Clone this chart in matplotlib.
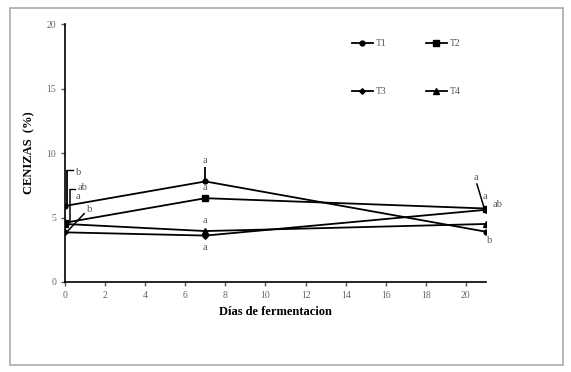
import numpy as np
import matplotlib
matplotlib.use("Agg")
import matplotlib.pyplot as plt
from matplotlib.patches import Rectangle

plt.rcParams['font.family'] = ['Liberation Serif', 'DejaVu Serif']

# data
dias = [0, 7, 21]
t1 = [5.9, 7.8, 3.9]
t2 = [4.6, 6.5, 5.7]
t3 = [3.85, 3.6, 5.6]
t4 = [4.5, 3.95, 4.5]
t1_err = [2.8, 1.1, 0.0]
t2_err = [2.6, 0.0, 0.0]

# significance letters (x, y, text)
letras = [(0.65, 8.5, 'b'), (0.85, 7.3, 'ab'), (0.65, 6.6, 'a'), (1.2, 5.6, 'b'),
          (7, 9.4, 'a'), (7, 7.3, 'a'), (7, 4.8, 'a'), (7, 2.7, 'a'),
          (20.5, 8.1, 'a'), (20.95, 6.6, 'a'), (21.6, 6.0, 'ab'), (21.2, 3.2, 'b')]

fig = plt.figure(figsize=(5.71, 3.72), dpi=100)
ax = fig.add_axes([0.114, 0.242, 0.737, 0.693])

ax.plot(dias, t1, '-o', color='black', lw=1.3, ms=3.5, label='T1')
ax.plot(dias, t2, '-s', color='black', lw=1.3, ms=5, label='T2')
ax.plot(dias, t3, '-D', color='black', lw=1.3, ms=2.8, label='T3')
ax.plot(dias, t4, '-^', color='black', lw=1.3, ms=4, label='T4')

ax.errorbar([0.08, 7], [t1[0], t1[1]], yerr=[[0, 0], [t1_err[0], t1_err[1]]],
            fmt='none', ecolor='black', lw=1.3, capsize=0)
ax.errorbar([0.25], [t2[0]], yerr=[[0], [t2_err[0]]], fmt='none', ecolor='black', lw=1.1)
ax.plot([0.08, 0.4], [8.7, 8.7], color='black', lw=1)
ax.plot([0.25, 0.5], [7.2, 7.2], color='black', lw=1)

# leader lines
for (x0, y0, x1, y1) in [(0.1, 3.9, 0.95, 5.3), (20.9, 5.8, 20.55, 7.6), (21.05, 4.6, 21.5, 5.6)]:
    ax.plot([x0, x1], [y0, y1], color='black', lw=1.1)

for x, y, s in letras:
    ax.text(x, y, s, ha='center', va='center', fontsize=7.5, color='#555555')

ax.set_xlim(0, 21)
ax.set_ylim(0, 20)
ax.set_xticks(np.arange(0, 21, 2))
ax.set_yticks([0, 5, 10, 15, 20])
ax.spines['top'].set_visible(False)
ax.spines['right'].set_visible(False)
ax.spines['left'].set_linewidth(1.2)
ax.spines['bottom'].set_linewidth(1.2)
ax.tick_params(labelsize=7, length=3, width=1, colors='#555555', labelcolor='#666666')
ax.set_xlabel('Días de fermentacion', fontsize=9, fontweight='bold', labelpad=4)
ax.set_ylabel('CENIZAS  (%)', fontsize=9, fontweight='bold', labelpad=8)

h, l = ax.get_legend_handles_labels()
leg = ax.legend([h[0], h[2], h[1], h[3]], [l[0], l[2], l[1], l[3]], ncol=2,
                loc='upper left', bbox_to_anchor=(0.66, 0.975), frameon=False,
                fontsize=7, labelspacing=4.0, columnspacing=4.0, handlelength=2.2,
                handletextpad=0.3)
for t in leg.get_texts():
    t.set_color('#555555')

fig.patches.append(Rectangle((0.018, 0.02), 0.968, 0.958, transform=fig.transFigure,
                             fill=False, edgecolor='#aaaaaa', lw=1.2))

fig.savefig('out.png', dpi=100)
